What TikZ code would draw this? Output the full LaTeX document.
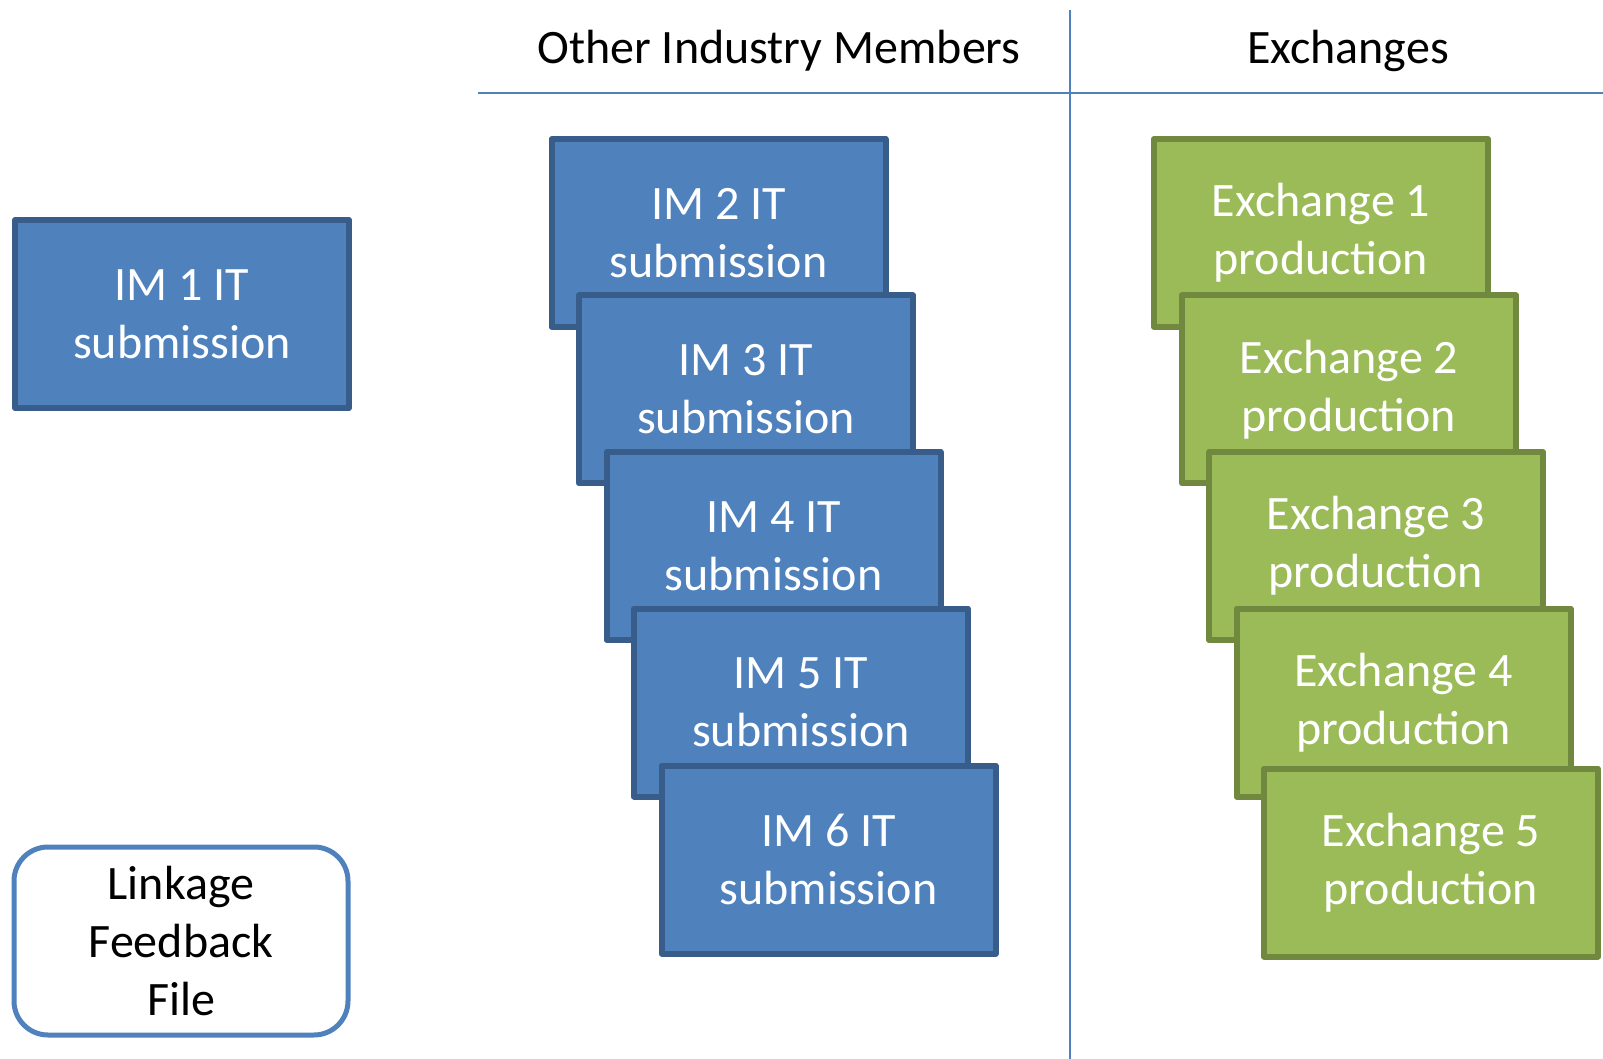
\documentclass[tikz,border=0pt]{standalone}
\usepackage{fontspec}
\setmainfont{Carlito}
\usepackage{tikz}
\usepackage{xcolor}
\definecolor{imfill}{HTML}{4F81BD}
\definecolor{imline}{HTML}{385D8A}
\definecolor{exfill}{HTML}{9BBB59}
\definecolor{exline}{HTML}{71893F}

\begin{document}
\begin{tikzpicture}[x=0.5pt,y=-0.5pt,
  card/.style={rectangle,line width=3pt,line join=round,minimum width=167pt,minimum height=94pt,
    align=center,inner sep=0pt,font=\fontsize{24}{29}\selectfont},
  imcard/.style={card,draw=imline,fill=imfill,text=white},
  excard/.style={card,draw=exline,fill=exfill,text=white},
  feedback/.style={card,draw=imfill,fill=white,text=black,rounded corners=17pt,line width=2.5pt},
  head/.style={font=\fontsize{24}{29}\selectfont},
  sep/.style={draw=imfill,line width=1pt}]
 \useasboundingbox (0,0) rectangle (1603,1059);
 % column heads and separators
 \node[head] (others) at (779,51) {Other Industry Members};
 \node[head] (exch) at (1348,51) {Exchanges};
 \draw[sep] (478,93) -- (1603,93);
 \draw[sep] (1070,10) -- (1070,1059);

 % own submission and feedback
 \node[imcard] (im1) at (182,314) {IM 1 IT\\submission};
 \node[feedback] (lff) at (181,941) {Linkage\\Feedback\\File};

 % other industry members
 \node[imcard] (im2) at (718.5,233) {IM 2 IT\\submission};
 \node[imcard] (im3) at (746,389.5) {IM 3 IT\\submission};
 \node[imcard] (im4) at (773.5,546) {IM 4 IT\\submission};
 \node[imcard] (im5) at (801,702.5) {IM 5 IT\\submission};
 \node[imcard] (im6) at (828.5,859.5) {IM 6 IT\\submission};

 % exchanges
 \node[excard] (ex1) at (1321,233) {Exchange 1\\production};
 \node[excard] (ex2) at (1349,389.5) {Exchange 2\\production};
 \node[excard] (ex3) at (1376,546) {Exchange 3\\production};
 \node[excard] (ex4) at (1403.5,702.5) {Exchange 4\\production};
 \node[excard] (ex5) at (1431,862.5) {Exchange 5\\production};
\end{tikzpicture}
\end{document}
